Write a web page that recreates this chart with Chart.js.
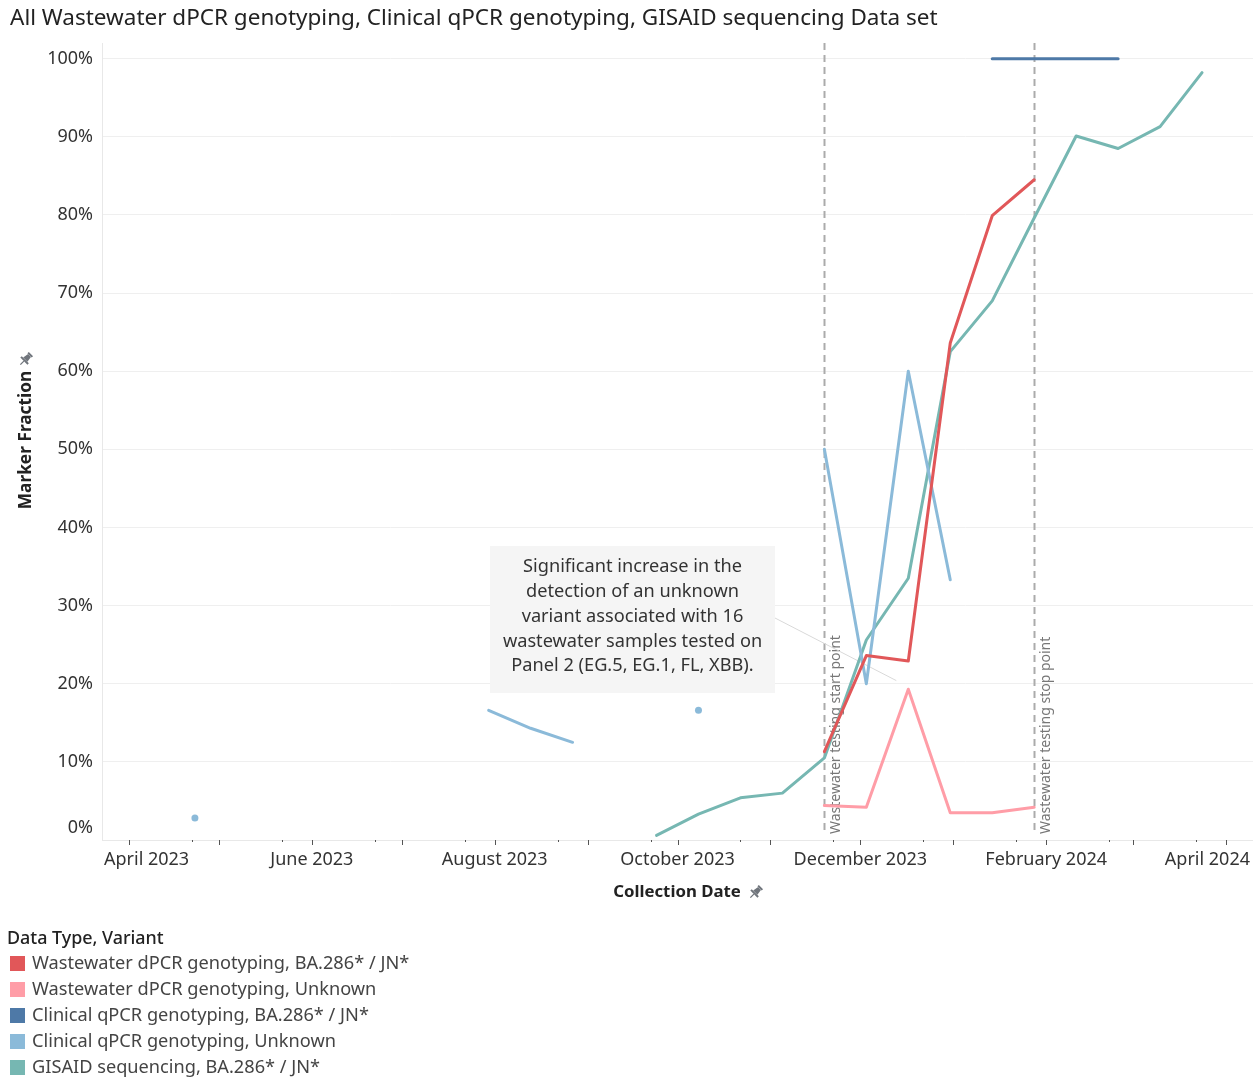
<!DOCTYPE html>
<html>
<head>
<meta charset="utf-8">
<script src="https://cdn.jsdelivr.net/npm/chart.js@4.4.1/dist/chart.umd.min.js"></script>
<style>
  html, body { margin: 0; padding: 0; background: #fff; }
  #wrap { width: 1253px; height: 1078px; position: relative; }
</style>
</head>
<body>
<div id="wrap"><canvas id="chart" width="1253" height="1078"></canvas></div>
<script>
// biweekly collection dates
const dates = ['2023-04-23', '2023-05-07', '2023-05-21', '2023-06-04', '2023-06-18', '2023-07-02', '2023-07-16',
  '2023-07-30', '2023-08-13', '2023-08-27', '2023-09-10', '2023-09-24', '2023-10-08', '2023-10-22', '2023-11-05',
  '2023-11-19', '2023-12-03', '2023-12-17', '2023-12-31', '2024-01-14', '2024-01-28', '2024-02-11', '2024-02-25',
  '2024-03-10', '2024-03-24'];

// marker fraction, % (null = no data)
const wwJN = [null, null, null, null, null, null, null, null, null, null, null, null, null, null, null,
  11.3, 23.6, 22.9, 63.6, 79.9, 84.5, null, null, null, null];
const wwUnknown = [null, null, null, null, null, null, null, null, null, null, null, null, null, null, null,
  4.4, 4.2, 19.3, 3.5, 3.5, 4.2, null, null, null, null];
const clinJN = [null, null, null, null, null, null, null, null, null, null, null, null, null, null, null,
  null, null, null, null, 100, 100, 100, 100, null, null];
const clinUnknown = [2.8, null, null, null, null, null, null, 16.6, 14.3, 12.5, null, null, 16.6, null, null,
  50, 20, 60, 33.3, null, null, null, null, null, null];
const gisaidJN = [null, null, null, null, null, null, null, null, null, null, null, 0.6, 3.3, 5.4, 6.0,
  10.5, 25.6, 33.5, 62.5, 69.0, 79.6, 90.1, 88.5, 91.3, 98.2];

const seriesNames = ['Wastewater dPCR genotyping, BA.286* / JN*', 'Wastewater dPCR genotyping, Unknown',
  'Clinical qPCR genotyping, BA.286* / JN*', 'Clinical qPCR genotyping, Unknown', 'GISAID sequencing, BA.286* / JN*'];
const seriesColors = ['#e15759', '#ff9da7', '#4e79a7', '#8bbad9', '#76b7b2'];

const yTicks = [0, 10, 20, 30, 40, 50, 60, 70, 80, 90, 100];
const monthLabels = ['April 2023', 'June 2023', 'August 2023', 'October 2023', 'December 2023', 'February 2024', 'April 2024'];
const monthLabelDates = ['2023-04-01', '2023-06-01', '2023-08-01', '2023-10-01', '2023-12-01', '2024-02-01', '2024-04-01'];
const refLines = [['2023-11-19', 'Wastewater testing start point'], ['2024-01-28', 'Wastewater testing stop point']];
const noteLines = ['Significant increase in the', 'detection of an unknown', 'variant associated with 16',
  'wastewater samples tested on', 'Panel 2 (EG.5, EG.1, FL, XBB).'];

const toDay = s => Date.parse(s + 'T00:00:00Z') / 864e5;
const FONT = '"Noto Sans", "Open Sans", sans-serif';

const allSeries = [wwJN, wwUnknown, clinJN, clinUnknown, gisaidJN];
const datasets = allSeries.map((vals, i) => ({
  label: seriesNames[i],
  data: dates.map((d, j) => ({ x: toDay(d), y: vals[j] })),
  borderColor: seriesColors[i],
  backgroundColor: seriesColors[i],
  borderWidth: 3,
  borderCapStyle: 'round',
  borderJoinStyle: 'round',
  spanGaps: false,
  tension: 0,
  // lone points (no neighbours) are shown as dots
  pointRadius: ctx => {
    const j = ctx.dataIndex;
    if (vals[j] == null) return 0;
    const prev = j > 0 ? vals[j - 1] : null, next = j < vals.length - 1 ? vals[j + 1] : null;
    return (prev == null && next == null) ? 3.5 : 0;
  },
  pointBorderWidth: 0
}));

function drawPin(ctx, x, y) {
  ctx.save();
  ctx.translate(x, y);
  ctx.rotate(Math.PI / 4);
  ctx.fillStyle = '#70757c';
  ctx.strokeStyle = '#70757c';
  ctx.fillRect(-3, -7, 6, 2);
  ctx.beginPath();
  ctx.moveTo(-2, -5); ctx.lineTo(2, -5); ctx.lineTo(3, 1); ctx.lineTo(-3, 1);
  ctx.closePath();
  ctx.fill();
  ctx.fillRect(-5, 1, 10, 2);
  ctx.lineWidth = 1.3;
  ctx.beginPath(); ctx.moveTo(0, 3); ctx.lineTo(0, 8); ctx.stroke();
  ctx.restore();
}

const decor = {
  id: 'decor',
  beforeDatasetsDraw(chart) {
    const { ctx, chartArea: a, scales: { x, y } } = chart;
    ctx.save();
    // reference lines
    refLines.forEach(([d, txt]) => {
      const px = Math.round(x.getPixelForValue(toDay(d))) + 0.5;
      ctx.strokeStyle = '#ababab';
      ctx.lineWidth = 2;
      ctx.setLineDash([7, 5]);
      ctx.beginPath(); ctx.moveTo(px, a.top); ctx.lineTo(px, a.bottom - 5); ctx.stroke();
      ctx.setLineDash([]);
      ctx.save();
      ctx.translate(px + 12, a.bottom - 6);
      ctx.rotate(-Math.PI / 2);
      ctx.fillStyle = '#777';
      ctx.font = '14px ' + FONT;
      ctx.textAlign = 'left';
      ctx.textBaseline = 'middle';
      ctx.fillText(txt, 0, 0);
      ctx.restore();
    });
    // annotation box
    const bx = 490, by = 546, bw = 285, bh = 147;
    const tx = x.getPixelForValue(toDay('2023-12-13')), ty = y.getPixelForValue(20.4);
    ctx.strokeStyle = '#d9d9d9';
    ctx.lineWidth = 1;
    ctx.beginPath(); ctx.moveTo(bx + bw, by + 72); ctx.lineTo(tx, ty); ctx.stroke();
    ctx.fillStyle = '#f5f5f5';
    ctx.fillRect(bx, by, bw, bh);
    ctx.fillStyle = '#333';
    ctx.font = '18.2px ' + FONT;
    ctx.textAlign = 'center';
    ctx.textBaseline = 'middle';
    noteLines.forEach((t, i) => ctx.fillText(t, bx + bw / 2, by + 21 + i * 24.8));
    ctx.restore();
  },
  afterDraw(chart) {
    const { ctx, chartArea: a, scales: { x, y } } = chart;
    ctx.save();
    // title
    ctx.fillStyle = '#222';
    ctx.font = '22.5px ' + FONT;
    ctx.textAlign = 'left';
    ctx.textBaseline = 'middle';
    ctx.fillText('All Wastewater dPCR genotyping, Clinical qPCR genotyping, GISAID sequencing Data set', 10, 19);
    // y tick labels
    ctx.fillStyle = '#333';
    ctx.font = '18px ' + FONT;
    ctx.textAlign = 'right';
    yTicks.forEach(v => {
      const py = y.getPixelForValue(v) - (v === 0 ? 12 : 0);
      ctx.fillText(v + '%', a.left - 9, py);
    });
    // x tick marks: month starts and minor marks
    ctx.strokeStyle = '#555';
    ctx.lineWidth = 1;
    for (let m = 2; m <= 16; m++) {
      const yy = 2023 + Math.floor(m / 12), mm = m % 12;
      const major = Date.UTC(yy, mm, 1) / 864e5, minor = Date.UTC(yy, mm, 22) / 864e5;
      [[major, 5], [minor, 2]].forEach(([d, len]) => {
        if (d < x.min || d > x.max) return;
        const px = Math.round(x.getPixelForValue(d)) + 0.5;
        ctx.beginPath(); ctx.moveTo(px, a.bottom); ctx.lineTo(px, a.bottom + len); ctx.stroke();
      });
    }
    // x labels, kept inside the plot width
    ctx.fillStyle = '#333';
    ctx.font = '18px ' + FONT;
    ctx.textAlign = 'left';
    monthLabels.forEach((t, i) => {
      const w = ctx.measureText(t).width;
      let lx = x.getPixelForValue(toDay(monthLabelDates[i])) - w / 2;
      lx = Math.max(a.left + 2, Math.min(a.right - 3 - w, lx));
      ctx.fillText(t, lx, a.bottom + 20);
    });
    // axis titles
    ctx.fillStyle = '#222';
    ctx.font = 'bold 16.8px ' + FONT;
    ctx.textAlign = 'center';
    ctx.fillText('Collection Date', 677, 892);
    drawPin(ctx, 756, 892);
    ctx.save();
    ctx.translate(26, 440);
    ctx.rotate(-Math.PI / 2);
    ctx.font = 'bold 17.3px ' + FONT;
    ctx.fillText('Marker Fraction', 0, 0);
    ctx.restore();
    drawPin(ctx, 26, 359);
    // legend
    ctx.textAlign = 'left';
    ctx.fillStyle = '#222';
    ctx.font = '500 17.9px ' + FONT;
    ctx.fillText('Data Type, Variant', 7, 939);
    ctx.font = '18.2px ' + FONT;
    chart.data.datasets.forEach((ds, i) => {
      const ly = 963 + i * 26;
      ctx.fillStyle = ds.borderColor;
      ctx.fillRect(10, ly - 7, 15, 15);
      ctx.fillStyle = '#444';
      ctx.fillText(ds.label, 32, ly + 1);
    });
    ctx.restore();
  }
};

new Chart(document.getElementById('chart'), {
  type: 'line',
  data: { datasets },
  options: {
    responsive: false,
    animation: false,
    layout: { autoPadding: false, padding: { top: 43, left: 0, right: 0, bottom: 178 } },
    plugins: { legend: { display: false }, title: { display: false }, tooltip: { enabled: false } },
    scales: {
      x: {
        type: 'linear',
        min: toDay('2023-03-23'),
        max: toDay('2024-04-10'),
        ticks: { display: false },
        grid: { display: false },
        border: { color: '#e8e8e8', width: 1 },
        afterFit: s => { s.height = 60; }
      },
      y: {
        min: 0,
        max: 102,
        afterBuildTicks: s => { s.ticks = yTicks.map(v => ({ value: v })); },
        ticks: { display: false },
        grid: { color: '#efefef', drawTicks: false },
        border: { color: '#e8e8e8', width: 1 },
        afterFit: s => { s.width = 102; }
      }
    }
  },
  plugins: [decor]
});
</script>
</body>
</html>
